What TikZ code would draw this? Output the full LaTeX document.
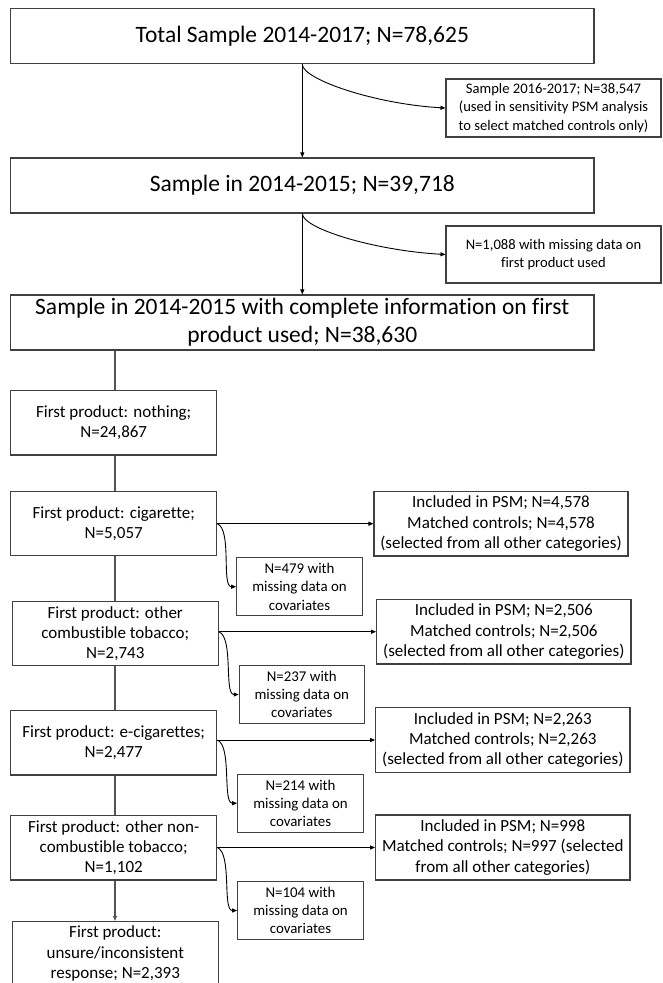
\documentclass[tikz,border=0pt]{standalone}
\usepackage{fontspec}
\setmainfont{Carlito}[Ligatures=NoCommon]
\usetikzlibrary{arrows.meta,calc}
\definecolor{boxgray}{RGB}{64,64,64}
\definecolor{linegray}{RGB}{85,85,85}
\tikzset{
  basebox/.style={draw=boxgray, line width=1.1pt, inner sep=0pt, align=center, fill=white},
  bigbox/.style={basebox, minimum width=583.3pt, minimum height=55pt, font=\fontsize{23.5}{28}\selectfont},
  sidebox/.style={basebox, minimum width=215pt, minimum height=58pt, font=\fontsize{14.6}{18.6}\selectfont},
  catbox/.style={basebox, minimum width=206pt, minimum height=64.3pt, font=\fontsize{17}{20.2}\selectfont},
  psmbox/.style={basebox, minimum width=254.3pt, minimum height=64.5pt, font=\fontsize{17}{20.2}\selectfont},
  missbox/.style={basebox, minimum width=125.6pt, minimum height=58pt, font=\fontsize{14.9}{18.3}\selectfont},
  arr/.style={draw=black, line width=0.9pt, -{Triangle[length=5pt,width=4pt]}},
  chainline/.style={draw=linegray, line width=1.4pt},
}
\begin{document}
\begin{tikzpicture}[x=1pt,y=-1pt]
\useasboundingbox (0,0) rectangle (662,983);
\fill[white] (0,0) rectangle (662,983);

% main column
\node[bigbox] (box1) at (302.3,36.2) {Total Sample 2014-2017; N=78,625};
\node[bigbox] (box2) at (302.3,185.5) {Sample in 2014-2015; N=39,718};
\node[bigbox] (box3) at (302.3,322.5) {Sample in 2014-2015 with complete information on first\\product used; N=38,630};

\node[sidebox] (side1) at (553.5,108) {Sample 2016-2017; N=38,547\\(used in sensitivity PSM analysis\\to select matched controls only)};
\node[sidebox, minimum height=57pt] (side2) at (553.5,254.5) {N=1,088 with missing data on\\first product used};

% category column
\node[catbox] (box4) at (113.7,422.8) {First product: nothing;\\N=24,867};
\node[catbox] (box5) at (113.7,523.7) {First product: cigarette;\\N=5,057};
\node[catbox] (box6) at (115.3,633.7) {First product: other\\combustible tobacco;\\N=2,743};
\node[catbox] (box7) at (113.7,742.8) {First product: e-cigarettes;\\N=2,477};
\node[catbox] (box8) at (113.7,847.8) {First product: other non-\\combustible tobacco;\\N=1,102};
\node[catbox, minimum height=64pt] (box9) at (115.3,953.5) {First product:\\unsure/inconsistent\\response; N=2,393};

% PSM boxes
\node[psmbox, minimum width=254pt] (psm1) at (501,523.7) {Included in PSM; N=4,578\\Matched controls; N=4,578\\(selected from all other categories)};
\node[psmbox] (psm2) at (503.8,631.7) {Included in PSM; N=2,506\\Matched controls; N=2,506\\(selected from all other categories)};
\node[psmbox] (psm3) at (502.8,740) {Included in PSM; N=2,263\\Matched controls; N=2,263\\(selected from all other categories)};
\node[psmbox, minimum height=65pt] (psm4) at (502.8,847.5) {Included in PSM; N=998\\Matched controls; N=997 (selected\\from all other categories)};

% missing boxes
\node[missbox] (miss1) at (299.5,586.7) {N=479 with\\missing data on\\covariates};
\node[missbox, minimum width=125pt, minimum height=57.6pt] (miss2) at (301.8,694.5) {N=237 with\\missing data on\\covariates};
\node[missbox, minimum height=58.3pt] (miss3) at (300.5,803.2) {N=214 with\\missing data on\\covariates};
\node[missbox, minimum height=57.6pt] (miss4) at (300.5,910.5) {N=104 with\\missing data on\\covariates};

% top connectors
\draw[arr] (box1.south) -- (box2.north);
\draw[arr] (box1.south) .. controls +(0,15) and +(-71,-4) .. (side1.west);
\draw[arr] (box2.south) -- (box3.north);
\draw[arr] (box2.south) .. controls +(0,15) and +(-71,-4) .. (side2.west);

% category chain
\draw[chainline] (box3.south -| 115,0) -- (box4.north -| 115,0);
\draw[chainline] (box4.south -| 115,0) -- (box5.north -| 115,0);
\draw[chainline] (box5.south -| 115,0) -- (box6.north -| 115,0);
\draw[chainline] (box6.south -| 115,0) -- (box7.north -| 115,0);
\draw[chainline] (box7.south -| 115,0) -- (box8.north -| 115,0);
\draw[arr, draw=linegray, line width=1.2pt] (box8.south -| 115,0) -- (box9.north -| 115,0);

% PSM arrows
\draw[arr] (box5.east) -- (psm1.west);
\draw[arr] (psm2.west -| box6.east) -- (psm2.west);
\draw[arr] (psm3.west -| box7.east) -- (psm3.west);
\draw[arr] (psm4.west -| box8.east) -- (psm4.west);

% missing arrows
\draw[arr] (box5.east) .. controls +(15,6) and +(-15,0) .. (miss1.west);
\draw[arr] (psm2.west -| box6.east) .. controls +(15,6) and +(-15,0) .. (miss2.west);
\draw[arr] (psm3.west -| box7.east) .. controls +(15,6) and +(-15,0) .. (miss3.west);
\draw[arr] (psm4.west -| box8.east) .. controls +(15,6) and +(-15,0) .. (miss4.west);
\end{tikzpicture}
\end{document}
